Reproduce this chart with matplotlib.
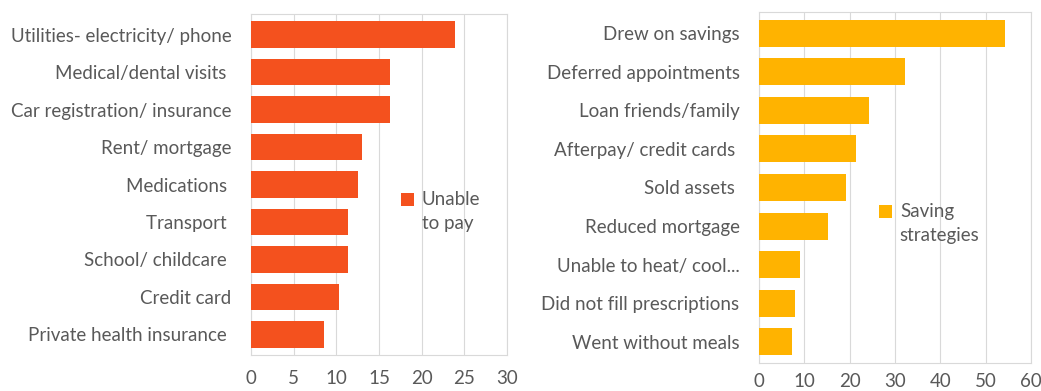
import matplotlib.pyplot as plt

plt.rcParams['font.family'] = ['Lato', 'DejaVu Sans']

# left panel: unable to pay
pay_labels = ['Utilities- electricity/ phone', 'Medical/dental visits ', 'Car registration/ insurance',
              'Rent/ mortgage', 'Medications ', 'Transport ', 'School/ childcare ', 'Credit card',
              'Private health insurance ']
pay_values = [23.9, 16.3, 16.3, 13.0, 12.5, 11.4, 11.4, 10.3, 8.6]

# right panel: saving strategies
save_labels = ['Drew on savings', 'Deferred appointments', 'Loan friends/family', 'Afterpay/ credit cards ',
               'Sold assets ', 'Reduced mortgage', 'Unable to heat/ cool...', 'Did not fill prescriptions',
               'Went without meals']
save_values = [54.3, 32.2, 24.3, 21.5, 19.2, 15.3, 9.0, 7.9, 7.3]

txt = '#595959'
grid = '#d9d9d9'
fs = 13.5

fig = plt.figure(figsize=(10.41, 3.91), dpi=100)
ax1 = fig.add_axes([251/1041, 36/391, 256/1041, 341/391])
ax2 = fig.add_axes([759/1041, 28/391, 272/1041, 351/391])


def panel(ax, labels, values, color, xmax, step, legend_text, legend_pos, xpad):
    pos = list(range(len(labels)))[::-1]
    ax.barh(pos, values, height=0.7, color=color, label=legend_text, zorder=3)
    ax.set_yticks(pos)
    ax.set_yticklabels(labels)
    ax.set_xlim(0, xmax)
    ax.set_ylim(-0.55, len(labels) - 0.45)
    ax.set_xticks(range(0, xmax + 1, step))
    ax.grid(axis='x', color=grid, linewidth=0.8, zorder=0)
    for s in ax.spines.values():
        s.set_color(grid)
    ax.tick_params(axis='y', length=0, pad=14, labelsize=fs, labelcolor=txt)
    ax.tick_params(axis='x', length=0, pad=xpad, labelsize=fs, labelcolor=txt)
    leg = ax.legend(loc='center left', bbox_to_anchor=legend_pos, frameon=False, fontsize=fs,
                    labelcolor=txt, handlelength=0.7, handleheight=0.7, handletextpad=0.4)
    leg.get_texts()[0].set_linespacing(1.5)
    # put the marker next to the first line, like the original
    h = leg.legend_handles[0]
    h.set_y(h.get_y() + 9)


panel(ax1, pay_labels, pay_values, '#f4511e', 30, 5, 'Unable\nto pay', (0.52, 0.42), 11)
panel(ax2, save_labels, save_values, '#ffb300', 60, 10, 'Saving\nstrategies', (0.38, 0.397), 7)

fig.savefig('out.png', dpi=100)
